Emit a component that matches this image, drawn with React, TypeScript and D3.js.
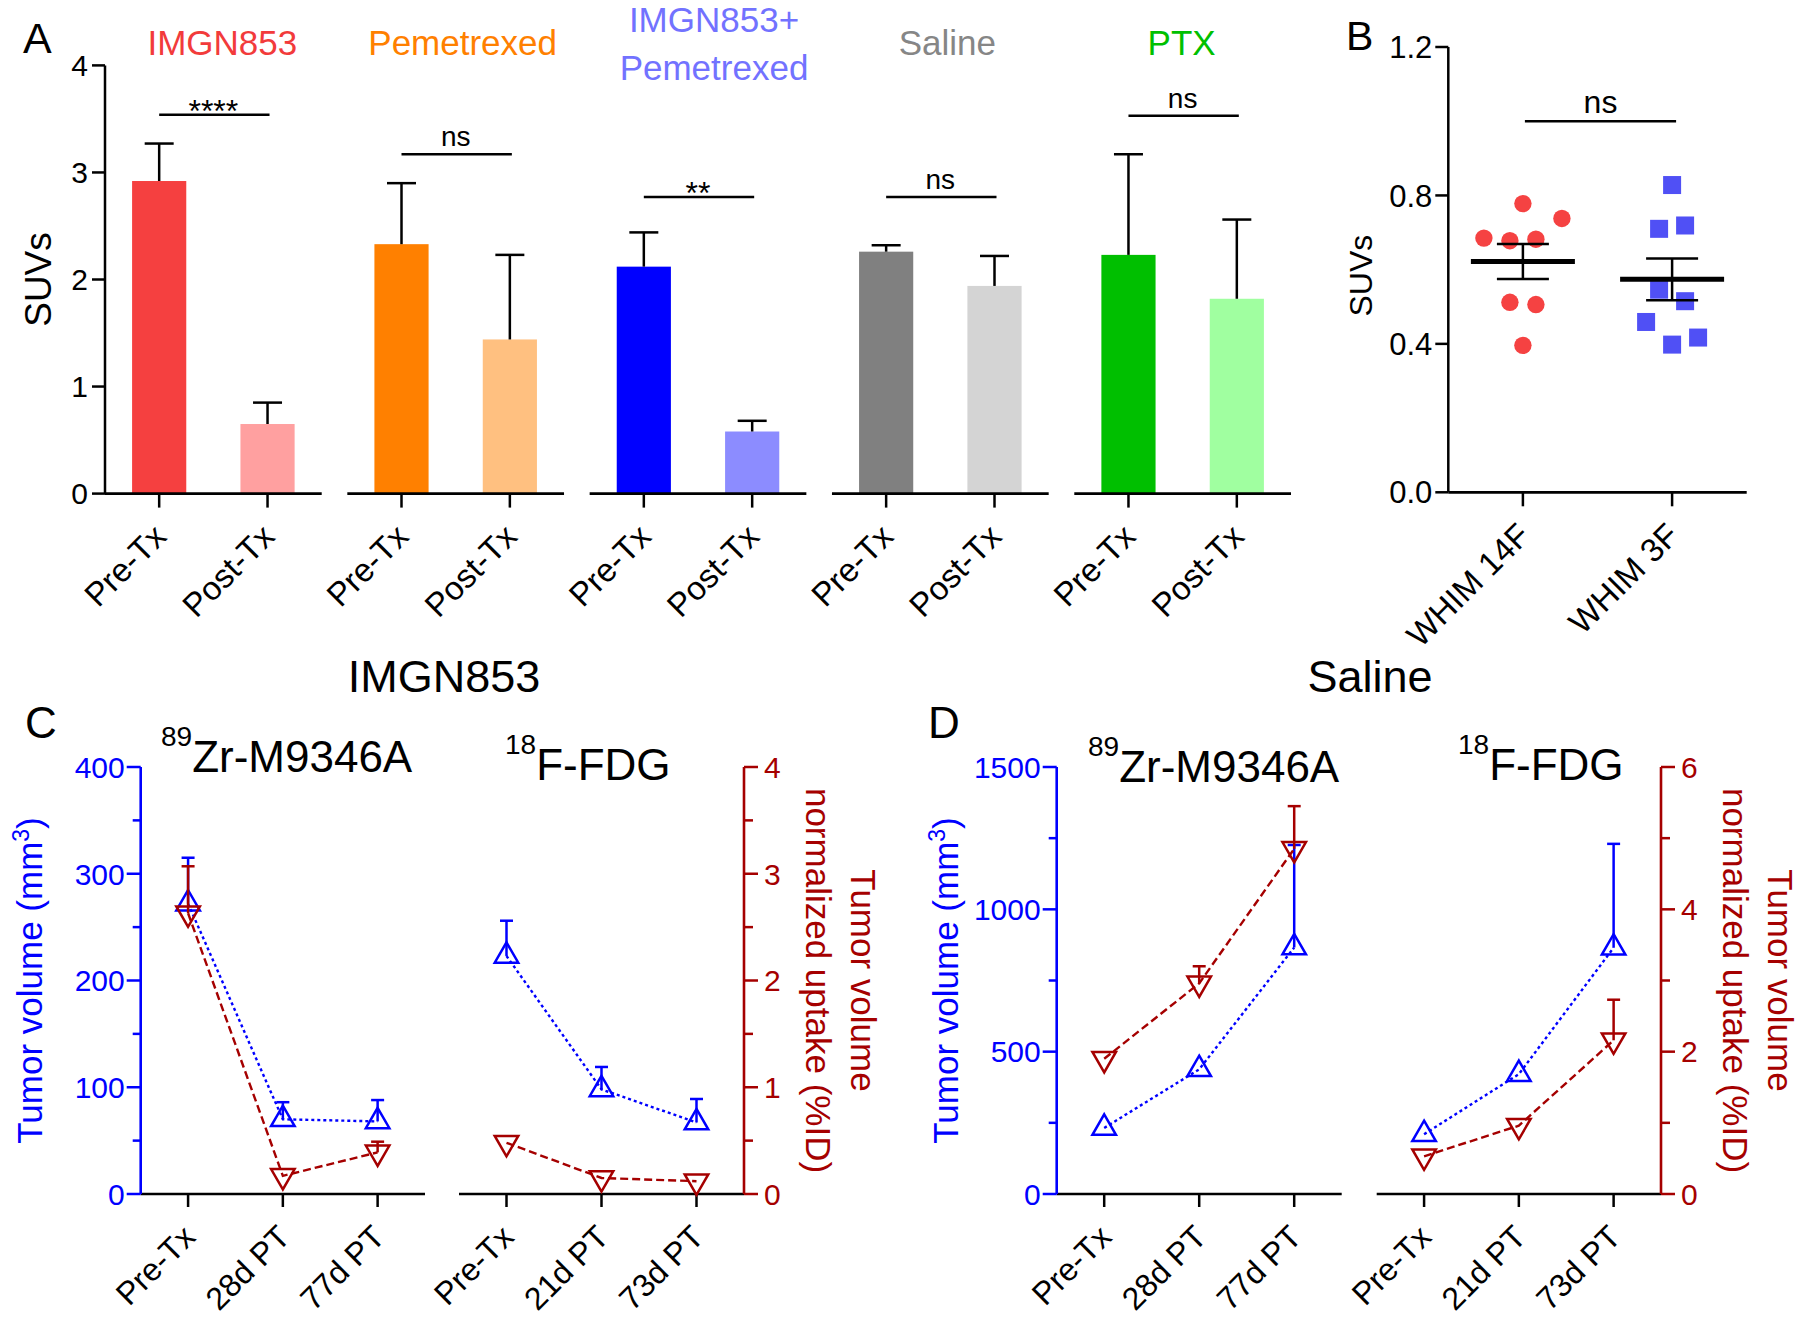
import React from "react";
import * as d3 from "d3";

const FONT = "'Liberation Sans', Arial, Helvetica, sans-serif";
const BLUE = "#0000ff";
const DARKRED = "#a50000";

// ---- panel A : SUVs before / after treatment
const groups = ["IMGN853", "Pemetrexed", "IMGN853+Pemetrexed", "Saline", "PTX"];
const groupTitles = [["IMGN853"], ["Pemetrexed"], ["IMGN853+", "Pemetrexed"], ["Saline"], ["PTX"]];
const phases = ["Pre-Tx", "Post-Tx"];
const preMean = [2.92, 2.33, 2.12, 2.26, 2.23];
const preSem = [0.35, 0.57, 0.32, 0.06, 0.94];
const postMean = [0.65, 1.44, 0.58, 1.94, 1.82];
const postSem = [0.2, 0.79, 0.1, 0.28, 0.74];
const sigText = ["****", "ns", "**", "ns", "ns"];
const sigLevel = [3.54, 3.17, 2.77, 2.77, 3.53];
const titleColors = ["#f23b3b", "#ff8000", "#7272ff", "#868686", "#00c000"];
const preColors = ["#f54040", "#ff8000", "#0000ff", "#808080", "#00bf00"];
const postColors = ["#ffa0a0", "#ffc080", "#8c8cff", "#d4d4d4", "#a0ffa0"];

// ---- panel B : SUVs per model
const models = ["WHIM 14F", "WHIM 3F"];
const whim14F = [0.778, 0.678, 0.682, 0.685, 0.738, 0.512, 0.506, 0.396];
const whim3F = [0.828, 0.71, 0.719, 0.546, 0.515, 0.398, 0.417, 0.459];
const modelSig = "ns";
const modelSigLevel = 1.0;

// ---- panel C : IMGN853
const zrDaysC = ["Pre-Tx", "28d PT", "77d PT"];
const fdgDaysC = ["Pre-Tx", "21d PT", "73d PT"];
const cZrVolume = [272, 70, 68];
const cZrVolumeErr = [43, 16, 20];
const cZrUptake = [2.63, 0.17, 0.39];
const cZrUptakeErr = [0.44, 0, 0.1];
const cFdgVolume = [223, 98, 67];
const cFdgVolumeErr = [33, 21, 22];
const cFdgUptake = [0.48, 0.15, 0.12];
const cFdgUptakeErr = [0, 0, 0];

// ---- panel D : Saline
const zrDaysD = ["Pre-Tx", "28d PT", "77d PT"];
const fdgDaysD = ["Pre-Tx", "21d PT", "73d PT"];
const dZrVolume = [232, 438, 866];
const dZrVolumeErr = [0, 0, 360];
const dZrUptake = [1.9, 2.96, 4.85];
const dZrUptakeErr = [0, 0.24, 0.6];
const dFdgVolume = [210, 421, 865];
const dFdgVolumeErr = [0, 0, 365];
const dFdgUptake = [0.53, 0.96, 2.16];
const dFdgUptakeErr = [0, 0, 0.57];

const TICK_FONT = 30;

const RotLabel = ({ x, y, text, size = 30, color = "#000" }) => (
  <text transform={`translate(${x},${y}) rotate(-45)`} textAnchor="end" fontSize={size} fill={color}>
    {text}
  </text>
);

function PanelA() {
  const y = d3.scaleLinear().domain([0, 4]).range([493.6, 65.4]);
  const xg = d3.scaleBand().domain(groups).range([105, 1291]).paddingInner(0.1057);
  const xi = d3.scaleBand().domain(phases).range([0, xg.bandwidth()]).paddingInner(0.5).paddingOuter(0.25);
  const axisX = 105;
  const base = y(0);
  // small sideways nudges of the coloured titles
  const titleShift = [9, 7, 16, 7, -1];
  return (
    <g>
      <text x={23} y={53} fontSize={43}>A</text>
      <line x1={axisX} x2={axisX} y1={y(4)} y2={base} stroke="#000" strokeWidth={2.5} />
      {y.ticks(4).map((t) => (
        <g key={t}>
          <line x1={axisX - 13} x2={axisX} y1={y(t)} y2={y(t)} stroke="#000" strokeWidth={2.5} />
          <text x={axisX - 17} y={y(t)} dy="0.36em" textAnchor="end" fontSize={TICK_FONT}>{t}</text>
        </g>
      ))}
      <text transform={`translate(38,${y(2)}) rotate(-90)`} textAnchor="middle" dy="0.35em" fontSize={37}>SUVs</text>
      {groups.map((g, i) => {
        const gx = xg(g);
        const cx = (p) => gx + xi(p) + xi.bandwidth() / 2;
        const bars = [
          { p: "Pre-Tx", m: preMean[i], s: preSem[i], c: preColors[i] },
          { p: "Post-Tx", m: postMean[i], s: postSem[i], c: postColors[i] },
        ];
        const tx = gx + xg.bandwidth() / 2 + titleShift[i];
        const lines = groupTitles[i];
        const sy = y(sigLevel[i]);
        return (
          <g key={g}>
            {bars.map((b) => (
              <g key={b.p}>
                <rect x={gx + xi(b.p)} width={xi.bandwidth()} y={y(b.m)} height={base - y(b.m)} fill={b.c} />
                <line x1={cx(b.p)} x2={cx(b.p)} y1={y(b.m)} y2={y(b.m + b.s)} stroke="#000" strokeWidth={2.5} />
                <line x1={cx(b.p) - 14.5} x2={cx(b.p) + 14.5} y1={y(b.m + b.s)} y2={y(b.m + b.s)} stroke="#000" strokeWidth={2.5} />
                <line x1={cx(b.p)} x2={cx(b.p)} y1={base} y2={base + 14} stroke="#000" strokeWidth={2.5} />
                <RotLabel x={cx(b.p) + 9} y={base + 45} text={b.p} size={33} />
              </g>
            ))}
            <line x1={gx} x2={gx + xg.bandwidth()} y1={base} y2={base} stroke="#000" strokeWidth={2.8} />
            <line x1={cx("Pre-Tx")} x2={cx("Post-Tx") + 2} y1={sy} y2={sy} stroke="#000" strokeWidth={2.5} />
            {sigText[i].startsWith("*") ? (
              <text x={(cx("Pre-Tx") + cx("Post-Tx")) / 2} y={sy + 7} textAnchor="middle" fontSize={32}>{sigText[i]}</text>
            ) : (
              <text x={(cx("Pre-Tx") + cx("Post-Tx")) / 2} y={sy - 8} textAnchor="middle" fontSize={28}>{sigText[i]}</text>
            )}
            {lines.length === 1 ? (
              <text x={tx} y={55} textAnchor="middle" fontSize={35} fill={titleColors[i]}>{lines[0]}</text>
            ) : (
              lines.map((l, k) => (
                <text key={l} x={tx} y={32 + k * 48} textAnchor="middle" fontSize={35} fill={titleColors[i]}>{l}</text>
              ))
            )}
          </g>
        );
      })}
    </g>
  );
}

// GraphPad-like scatter layout: points that sit in one horizontal row are spread sideways
function swarm(values, y, rowPx, spacing) {
  const order = d3.range(values.length).sort((a, b) => values[a] - values[b]);
  const rows = [];
  order.forEach((idx) => {
    const last = rows[rows.length - 1];
    if (last && Math.abs(y(values[idx]) - last.y0) < rowPx) last.members.push(idx);
    else rows.push({ y0: y(values[idx]), members: [idx] });
  });
  const offs = new Array(values.length).fill(0);
  rows.forEach((r) => {
    const mem = r.members.slice().sort((a, b) => a - b);
    const n = mem.length;
    mem.forEach((idx, k) => {
      let slot;
      if (n % 2 === 1) slot = k === 0 ? 0 : (k % 2 === 1 ? 1 : -1) * Math.ceil(k / 2);
      else slot = (k % 2 === 0 ? -1 : 1) * (Math.floor(k / 2) + 0.5);
      offs[idx] = slot * spacing;
    });
  });
  return offs;
}

function PanelB() {
  const y = d3.scaleLinear().domain([0, 1.2]).range([492.3, 47]);
  const x = d3.scalePoint().domain(models).range([1448.3, 1746.7]).padding(0.5);
  const axisX = 1448.3;
  const base = y(0);
  const sets = [
    { m: models[0], v: whim14F, color: "#f54242", shape: "circle" },
    { m: models[1], v: whim3F, color: "#5050f5", shape: "square" },
  ];
  const sy = y(modelSigLevel);
  return (
    <g>
      <text x={1346} y={50} fontSize={41}>B</text>
      <line x1={axisX} x2={axisX} y1={y(1.2)} y2={base} stroke="#000" strokeWidth={2.5} />
      {[0, 0.4, 0.8, 1.2].map((t) => (
        <g key={t}>
          <line x1={axisX - 13} x2={axisX} y1={y(t)} y2={y(t)} stroke="#000" strokeWidth={2.5} />
          <text x={axisX - 16} y={y(t)} dy="0.36em" textAnchor="end" fontSize={31}>{d3.format(".1f")(t)}</text>
        </g>
      ))}
      <line x1={axisX} x2={1746.7} y1={base} y2={base} stroke="#000" strokeWidth={2.8} />
      <text transform={`translate(1361,${y(0.6) + 6}) rotate(-90)`} textAnchor="middle" dy="0.35em" fontSize={32}>SUVs</text>
      {sets.map((s) => {
        const cx = x(s.m);
        const offs = swarm(s.v, y, 25, 26);
        const mean = d3.mean(s.v);
        const sem = d3.deviation(s.v) / Math.sqrt(s.v.length);
        return (
          <g key={s.m}>
            {s.v.map((v, i) =>
              s.shape === "circle" ? (
                <circle key={i} cx={cx + offs[i]} cy={y(v)} r={8.7} fill={s.color} />
              ) : (
                <rect key={i} x={cx + offs[i] - 9} y={y(v) - 9} width={18} height={18} fill={s.color} />
              )
            )}
            <line x1={cx - 52} x2={cx + 52} y1={y(mean)} y2={y(mean)} stroke="#000" strokeWidth={5} />
            <line x1={cx} x2={cx} y1={y(mean - sem)} y2={y(mean + sem)} stroke="#000" strokeWidth={2.5} />
            <line x1={cx - 26} x2={cx + 26} y1={y(mean + sem)} y2={y(mean + sem)} stroke="#000" strokeWidth={2.5} />
            <line x1={cx - 26} x2={cx + 26} y1={y(mean - sem)} y2={y(mean - sem)} stroke="#000" strokeWidth={2.5} />
            <line x1={cx} x2={cx} y1={base} y2={base + 14} stroke="#000" strokeWidth={2.5} />
            <RotLabel x={cx + 9} y={base + 45} text={s.m} size={33} />
          </g>
        );
      })}
      <line x1={x(models[0]) + 2} x2={x(models[1]) + 4} y1={sy} y2={sy} stroke="#000" strokeWidth={2.5} />
      <text x={(x(models[0]) + x(models[1])) / 2 + 3} y={sy - 8} textAnchor="middle" fontSize={32}>{modelSig}</text>
    </g>
  );
}

function Series({ x, y, cats, vals, errs, color, dash, down }) {
  const pts = cats.map((c, i) => [x(c), y(vals[i])]);
  const tri = d3.symbol(d3.symbolTriangle, 240)();
  return (
    <g>
      <path d={d3.line()(pts)} fill="none" stroke={color} strokeWidth={2.4} strokeDasharray={dash} />
      {pts.map(([px, py], i) =>
        errs[i] > 0 ? (
          <g key={"e" + i}>
            <line x1={px} x2={px} y1={py} y2={y(vals[i] + errs[i])} stroke={color} strokeWidth={2.5} />
            <line x1={px - 6.5} x2={px + 6.5} y1={y(vals[i] + errs[i])} y2={y(vals[i] + errs[i])} stroke={color} strokeWidth={2.5} />
          </g>
        ) : null
      )}
      {pts.map(([px, py], i) => (
        <path key={"m" + i} d={tri} transform={`translate(${px},${py})${down ? " rotate(180)" : ""}`} fill="none" stroke={color} strokeWidth={2.5} />
      ))}
    </g>
  );
}

function Isotope({ x, y, sup, main }) {
  return (
    <text x={x} y={y} fontSize={44}>
      <tspan fontSize={28} dy={-26}>{sup}</tspan>
      <tspan dy={26}>{main}</tspan>
    </text>
  );
}

function DualPanel(p) {
  const top = 767;
  const bottom = 1194;
  const yL = d3.scaleLinear().domain([0, p.leftMax]).range([bottom, top]);
  const yR = d3.scaleLinear().domain([0, p.rightMax]).range([bottom, top]);
  const x1 = d3.scalePoint().domain(p.cats1).range(p.sub1).padding(0.5);
  const x2 = d3.scalePoint().domain(p.cats2).range(p.sub2).padding(0.5);
  const lx = p.sub1[0];
  const rx = p.sub2[1];
  const mid = (top + bottom) / 2;
  const leftTicks = d3.range(0, p.leftMax + 1e-9, p.leftMinor);
  const rightTicks = d3.range(0, p.rightMax + 1e-9, p.rightMinor);
  const isMajor = (t, step) => Math.abs(t / step - Math.round(t / step)) < 1e-6;
  return (
    <g>
      <text x={p.labelX} y={738} fontSize={44}>{p.label}</text>
      <text x={p.titleX} y={692} textAnchor="middle" fontSize={45}>{p.title}</text>
      <Isotope x={p.zrX} y={p.zrY} sup="89" main="Zr-M9346A" />
      <Isotope x={p.fdgX} y={p.fdgY} sup="18" main="F-FDG" />
      {/* x axes */}
      <line x1={lx} x2={p.sub1[1]} y1={bottom} y2={bottom} stroke="#000" strokeWidth={2.6} />
      <line x1={p.sub2[0]} x2={rx} y1={bottom} y2={bottom} stroke="#000" strokeWidth={2.6} />
      {p.cats1.map((c) => (
        <g key={"a" + c}>
          <line x1={x1(c)} x2={x1(c)} y1={bottom} y2={bottom + 13} stroke="#000" strokeWidth={2.5} />
          <RotLabel x={x1(c) + 9} y={bottom + 45} text={c} size={32} />
        </g>
      ))}
      {p.cats2.map((c) => (
        <g key={"b" + c}>
          <line x1={x2(c)} x2={x2(c)} y1={bottom} y2={bottom + 13} stroke="#000" strokeWidth={2.5} />
          <RotLabel x={x2(c) + 9} y={bottom + 45} text={c} size={32} />
        </g>
      ))}
      {/* left axis */}
      <line x1={lx} x2={lx} y1={top} y2={bottom} stroke={BLUE} strokeWidth={2.6} />
      {leftTicks.map((t) => {
        const major = isMajor(t, p.leftMajor);
        return (
          <g key={"l" + t}>
            <line x1={lx - (major ? 14 : 8)} x2={lx} y1={yL(t)} y2={yL(t)} stroke={BLUE} strokeWidth={2.5} />
            {major ? (
              <text x={lx - 16} y={yL(t)} dy="0.36em" textAnchor="end" fontSize={TICK_FONT} fill={BLUE}>{t}</text>
            ) : null}
          </g>
        );
      })}
      <text transform={`translate(${lx - 99},${mid}) rotate(-90)`} textAnchor="middle" fontSize={35} fill={BLUE}>
        Tumor volume (mm<tspan dy={-13} fontSize={23}>3</tspan><tspan dy={13}>)</tspan>
      </text>
      {/* right axis */}
      <line x1={rx} x2={rx} y1={top} y2={bottom} stroke={DARKRED} strokeWidth={2.6} />
      {rightTicks.map((t) => {
        const major = isMajor(t, p.rightMajor);
        return (
          <g key={"r" + t}>
            <line x1={rx} x2={rx + (major ? 14 : 9)} y1={yR(t)} y2={yR(t)} stroke={DARKRED} strokeWidth={2.5} />
            {major ? (
              <text x={rx + 20} y={yR(t)} dy="0.36em" fontSize={TICK_FONT} fill={DARKRED}>{t}</text>
            ) : null}
          </g>
        );
      })}
      <text transform={`translate(${rx + 107},${mid}) rotate(90)`} textAnchor="middle" fontSize={35} fill={DARKRED}>Tumor volume</text>
      <text transform={`translate(${rx + 62},${mid}) rotate(90)`} textAnchor="middle" fontSize={35} fill={DARKRED}>normalized uptake (%ID)</text>
      {/* data */}
      <Series x={x1} y={yL} cats={p.cats1} vals={p.vol1} errs={p.volErr1} color={BLUE} dash="3,3" />
      <Series x={x1} y={yR} cats={p.cats1} vals={p.upt1} errs={p.uptErr1} color={DARKRED} dash="8,4" down />
      <Series x={x2} y={yL} cats={p.cats2} vals={p.vol2} errs={p.volErr2} color={BLUE} dash="3,3" />
      <Series x={x2} y={yR} cats={p.cats2} vals={p.upt2} errs={p.uptErr2} color={DARKRED} dash="8,4" down />
    </g>
  );
}

export default function App() {
  return (
    <svg
      width={1800}
      height={1320}
      style={{ position: "absolute", left: 0, top: 0, background: "#fff" }}
      fontFamily={FONT}
    >
      <rect width={1800} height={1320} fill="#fff" />
      <PanelA />
      <PanelB />
      <DualPanel
        label="C" labelX={25} title="IMGN853" titleX={444}
        zrX={161} zrY={772} fdgX={505} fdgY={780}
        sub1={[140.7, 425]} sub2={[459, 744]}
        leftMax={400} leftMajor={100} leftMinor={50}
        rightMax={4} rightMajor={1} rightMinor={0.5}
        cats1={zrDaysC} cats2={fdgDaysC}
        vol1={cZrVolume} volErr1={cZrVolumeErr} upt1={cZrUptake} uptErr1={cZrUptakeErr}
        vol2={cFdgVolume} volErr2={cFdgVolumeErr} upt2={cFdgUptake} uptErr2={cFdgUptakeErr}
      />
      <DualPanel
        label="D" labelX={928} title="Saline" titleX={1370}
        zrX={1088} zrY={782} fdgX={1458} fdgY={780}
        sub1={[1056.7, 1341.7]} sub2={[1376.7, 1661]}
        leftMax={1500} leftMajor={500} leftMinor={250}
        rightMax={6} rightMajor={2} rightMinor={1}
        cats1={zrDaysD} cats2={fdgDaysD}
        vol1={dZrVolume} volErr1={dZrVolumeErr} upt1={dZrUptake} uptErr1={dZrUptakeErr}
        vol2={dFdgVolume} volErr2={dFdgVolumeErr} upt2={dFdgUptake} uptErr2={dFdgUptakeErr}
      />
    </svg>
  );
}
